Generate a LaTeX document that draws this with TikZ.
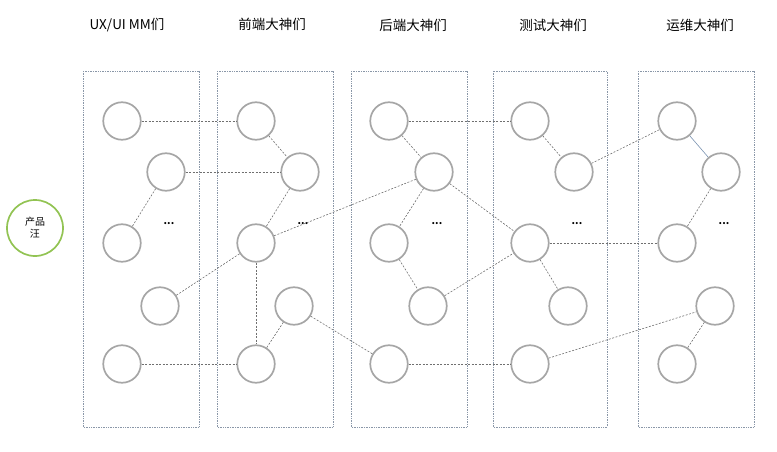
\documentclass[tikz,border=0pt]{standalone}
\usepackage{fontspec}
\setmainfont{Noto Sans CJK SC}
\usetikzlibrary{positioning}
\definecolor{ringline}{HTML}{A6A6A6}
\definecolor{laneline}{HTML}{8A97A8}
\definecolor{linkline}{HTML}{707070}
\definecolor{pmgreen}{HTML}{92C353}
\definecolor{softblue}{HTML}{7A92B0}
\begin{document}
\begin{tikzpicture}[x=1pt,y=-1pt,
  lane/.style={draw=laneline,densely dotted,line width=0.7pt},
  member/.style={circle,draw=ringline,line width=1.7pt,minimum size=37.5pt,inner sep=0pt},
  link/.style={draw=linkline,dash pattern=on 2pt off 1.5pt,line width=0.6pt},
  title/.style={font=\fontsize{13.5}{15}\selectfont},
  more/.style={font=\fontsize{10}{10}\selectfont\bfseries}
]
\useasboundingbox (0,0) rectangle (777,452);
% swimlanes
\draw[lane] (83,71) rectangle (199,427);
\draw[lane] (217,71) rectangle (333,427);
\draw[lane] (351,71) rectangle (467,427);
\draw[lane] (493,71) rectangle (607,427);
\draw[lane] (638,71) rectangle (754,427);
% titles
\node[title] (tux) at (127,25) {UX/UI MM们};
\node[title] (tfe) at (272,24) {前端大神们};
\node[title] (tbe) at (413,25) {后端大神们};
\node[title] (tqa) at (553,25) {测试大神们};
\node[title] (top) at (700,25) {运维大神们};
% product
\node[circle,draw=pmgreen,line width=1.7pt,minimum size=56pt,inner sep=0pt,align=center,
  font=\fontsize{10}{12}\selectfont] (pm) at (35,228) {产品\\汪};
% members
\node[member] (ux1) at (122,121) {};
\node[member] (ux2) at (166,172) {};
\node[member] (ux3) at (122,243) {};
\node[member] (ux4) at (160,306) {};
\node[member] (ux5) at (122,364) {};
\node[member] (fe1) at (256,121) {};
\node[member] (fe2) at (300,172) {};
\node[member] (fe3) at (256,243) {};
\node[member] (fe4) at (294,306) {};
\node[member] (fe5) at (256,364) {};
\node[member] (be1) at (389,121) {};
\node[member] (be2) at (434,172) {};
\node[member] (be3) at (389,243) {};
\node[member] (be4) at (428,306) {};
\node[member] (be5) at (389,364) {};
\node[member] (qa1) at (530,121) {};
\node[member] (qa2) at (574,172) {};
\node[member] (qa3) at (530,243) {};
\node[member] (qa4) at (568,306) {};
\node[member] (qa5) at (530,364) {};
\node[member] (op1) at (677,121) {};
\node[member] (op2) at (721,172) {};
\node[member] (op3) at (677,243) {};
\node[member] (op4) at (715,306) {};
\node[member] (op5) at (677,364) {};
% and so on
\node[more] (uxm) at (169,224) {...};
\node[more] (fem) at (303,224) {...};
\node[more] (bem) at (437,224) {...};
\node[more] (qam) at (577,224) {...};
\node[more] (opm) at (724,224) {...};
% links
\draw[link] (ux1) -- (fe1);
\draw[link] (ux2) -- (fe2);
\draw[link] (ux2) -- (ux3);
\draw[link] (ux4) -- (fe3);
\draw[link] (ux5) -- (fe5);
\draw[link] (fe1) -- (fe2);
\draw[link] (fe2) -- (fe3);
\draw[link] (fe3) -- (be2);
\draw[link] (fe3) -- (fe5);
\draw[link] (fe4) -- (fe5);
\draw[link] (fe4) -- (be5);
\draw[link] (be1) -- (be2);
\draw[link] (be1) -- (qa1);
\draw[link] (be2) -- (be3);
\draw[link] (be2) -- (qa3);
\draw[link] (be3) -- (be4);
\draw[link] (be4) -- (qa3);
\draw[link] (be5) -- (qa5);
\draw[link] (qa1) -- (qa2);
\draw[link] (qa2) -- (op1);
\draw[link] (qa3) -- (op3);
\draw[link] (qa3) -- (qa4);
\draw[link] (qa5) -- (op4);
\draw[draw=softblue,line width=0.6pt] (op1) -- (op2);
\draw[link] (op2) -- (op3);
\draw[link] (op4) -- (op5);
\end{tikzpicture}
\end{document}
